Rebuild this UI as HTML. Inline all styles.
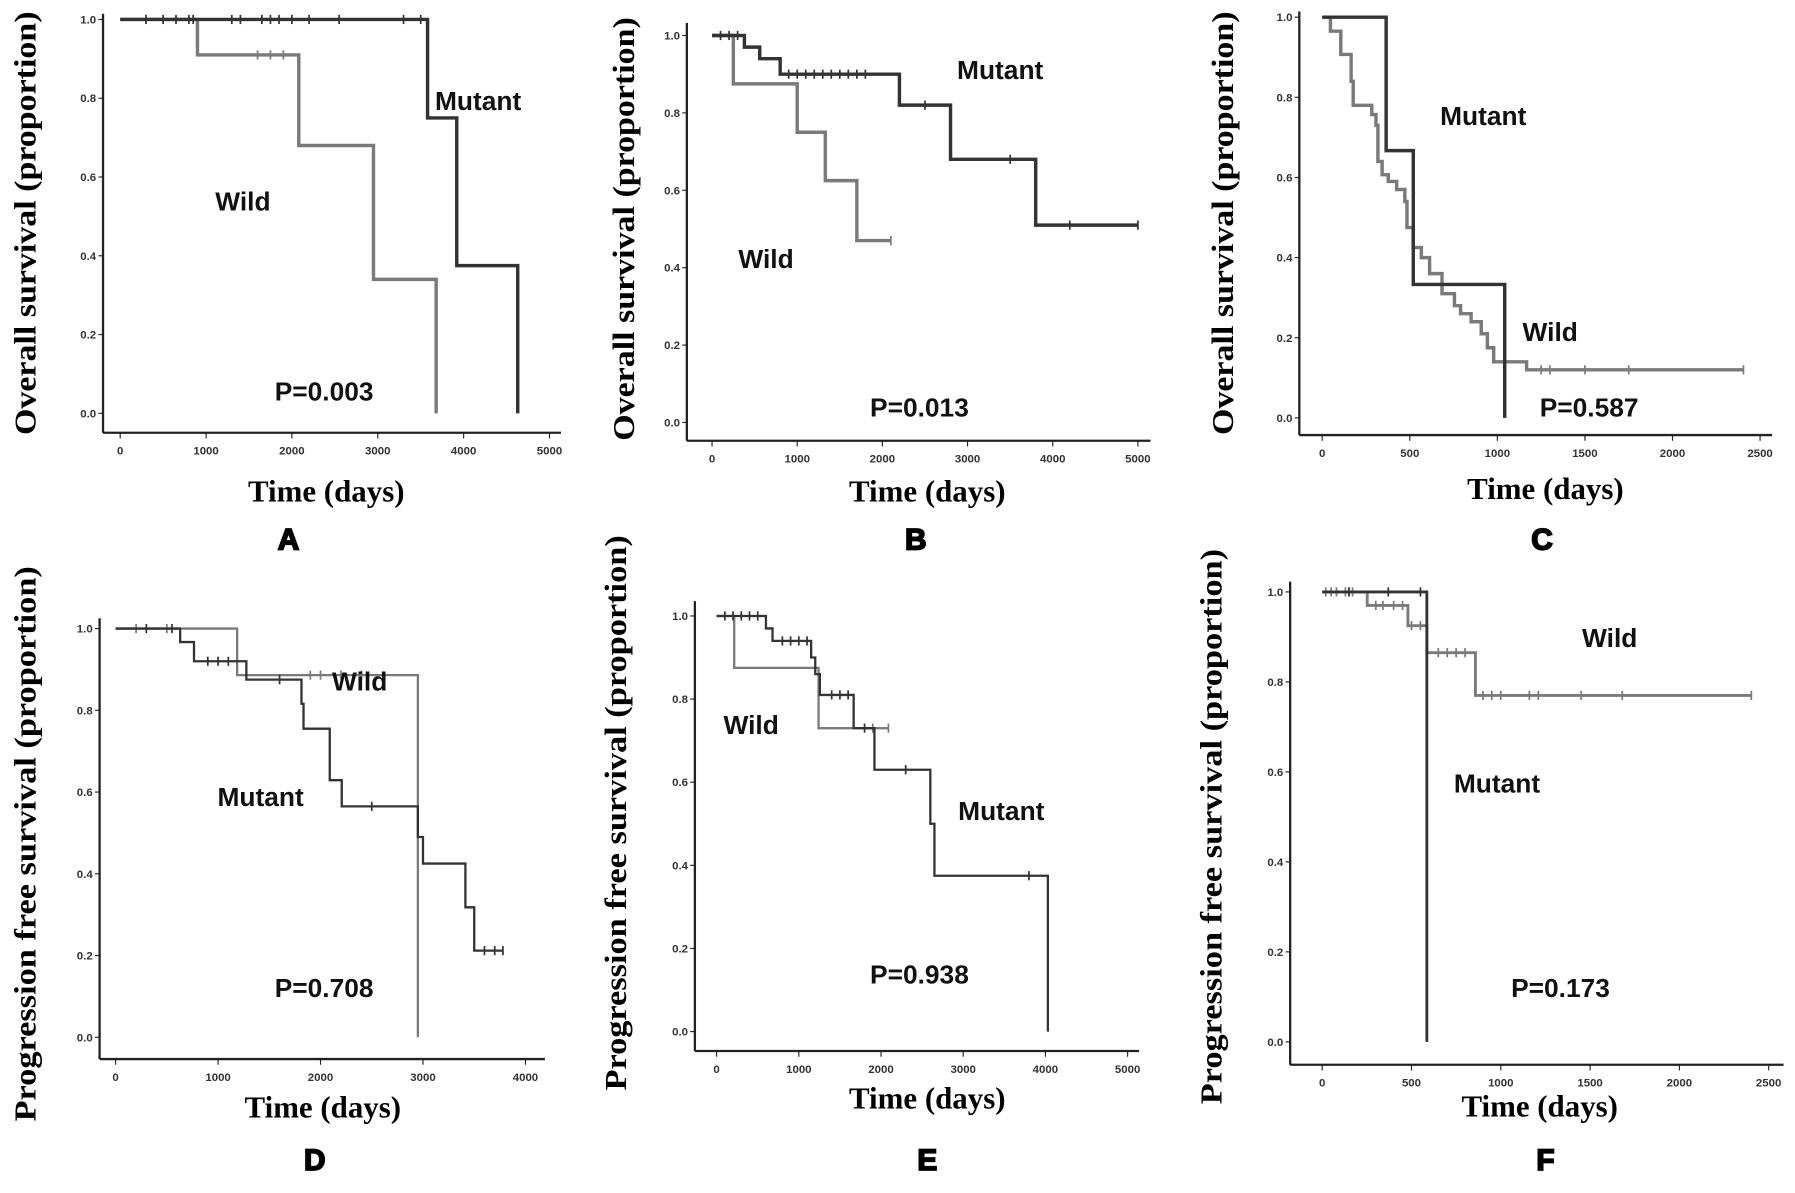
<!DOCTYPE html>
<html><head><meta charset="utf-8"><style>
html,body{margin:0;padding:0;background:#fff;}
svg{display:block;}
.tk{font-family:"Liberation Sans",sans-serif;font-size:10px;fill:#333;font-weight:bold;}
.lab{font-family:"Liberation Sans",sans-serif;font-weight:bold;font-size:23px;fill:#111;}
.ttl{font-family:"Liberation Serif",serif;font-weight:bold;font-size:27px;fill:#000;}
.let{font-family:"Liberation Sans",sans-serif;font-weight:bold;font-size:26px;fill:#000;stroke:#000;stroke-width:1.5px;}
</style></head><body>
<svg id="fig" width="1795" height="1193" viewBox="0 0 1568 1042" preserveAspectRatio="none" xmlns="http://www.w3.org/2000/svg"></svg>
<script>
// ---- data (time in days, survival proportion) ----
const aWildT=[0,900,2080,2950,3680];            const aWildS=[1,0.91,0.68,0.34,0];
const aMutT=[0,3580,3920,4630];                  const aMutS=[1,0.75,0.375,0];
const bMutT=[0,380,560,800,2200,2800,3800,5000]; const bMutS=[1,0.97,0.94,0.90,0.82,0.68,0.51,0.51];
const bWildT=[0,250,1000,1330,1700,2100];        const bWildS=[1,0.875,0.75,0.625,0.47,0.47];
const cMutT=[0,365,520,1042];                    const cMutS=[1,0.667,0.333,0];
const cWildT=[0,47,106,165,177,283,307,318,342,377,425,472,484,519,566,613,684,755,790,850,908,943,979,1167,2405];
const cWildS=[1,0.965,0.907,0.84,0.78,0.757,0.73,0.64,0.607,0.59,0.57,0.54,0.475,0.425,0.40,0.36,0.31,0.28,0.26,0.24,0.21,0.175,0.14,0.12,0.12];
const dWildT=[0,1186,2950];                      const dWildS=[1,0.886,0];
const dMutT=[0,630,765,1276,1814,1834,2090,2207,2950,3000,3414,3500,3780];
const dMutS=[1,0.967,0.92,0.875,0.816,0.755,0.629,0.565,0.49,0.425,0.318,0.212,0.212];
const eMutT=[0,600,680,1150,1200,1256,1667,1920,2600,2650,4030];
const eMutS=[1,0.97,0.94,0.90,0.86,0.81,0.73,0.63,0.5,0.375,0];
const eWildT=[0,214,1240,2090];                  const eWildS=[1,0.875,0.73,0.73];
const fMutT=[0,586];                             const fMutS=[1,0];
const fWildT=[0,252,480,586,858,2403];           const fWildS=[1,0.97,0.925,0.865,0.77,0.77];
// censor marks
const aMutC=[300,500,650,800,850,1300,1400,1650,1750,1850,2000,2200,2550,3300,3500];
const aWildC=[1600,1750,1900];
const bMutC=[100,200,300,900,1000,1100,1200,1300,1400,1500,1600,1700,1800,2500,3500,4200,5000];
const bWildC=[2100];
const cWildC=[1250,1300,1500,1750,2405];
const dMutC=[300,550,900,1000,1100,1600,2500,3600,3700,3780];
const dWildC=[200,500,1900,2000,2200,2400];
const eMutC=[100,200,300,400,500,800,900,1000,1100,1400,1500,1600,1800,2300,3800];
const eWildC=[1900,2090];
const fMutC=[150,370,550];
const fWildC=[20,50,80,130,150,170,300,340,400,450,500,550,650,700,750,800,900,950,1000,1160,1210,1450,1680,2403];
const xTicksA=[0,1000,2000,3000,4000,5000];
const xTicksC=[0,500,1000,1500,2000,2500];
const xTicksD=[0,1000,2000,3000,4000];
const yTicks=[0,0.2,0.4,0.6,0.8,1.0];

const NS="http://www.w3.org/2000/svg";
const svg=document.getElementById('fig');
function mk(tag,attrs,parent){const e=document.createElementNS(NS,tag);for(const k in attrs)e.setAttribute(k,attrs[k]);(parent||svg).appendChild(e);return e;}

const panels=[
 {id:'a',ax:90,ay:378,top:12,right:490,x0:105,sc:75/1000,y1:17,y0:361,ticks:xTicksA,lw:3,
  series:[[aWildT,aWildS,aWildC,'#7a7a7a','wild'],[aMutT,aMutS,aMutC,'#333','mutant']],
  labels:[['Mutant',380,96],['Wild',188,184],['P=0.003',240,350]],ytitle:'Overall survival (proportion)',yx:22,yc:195,ylen:370,tx:285,ty:438,letter:'A',lx:252,ly:480},
 {id:'b',ax:600,ay:385,top:20,right:1005,x0:622,sc:74.4/1000,y1:31,y0:369,ticks:xTicksA,lw:3,
  series:[[bWildT,bWildS,bWildC,'#7a7a7a','wild'],[bMutT,bMutS,bMutC,'#333','mutant']],
  labels:[['Mutant',836,69],['Wild',645,234],['P=0.013',760,364]],ytitle:'Overall survival (proportion)',yx:545,yc:200,ylen:370,tx:810,ty:438,letter:'B',lx:800,ly:480},
 {id:'c',ax:1135,ay:380,top:10,right:1548,x0:1155,sc:76.5/500,y1:15,y0:365,ticks:xTicksC,lw:3,
  series:[[cWildT,cWildS,cWildC,'#7a7a7a','wild'],[cMutT,cMutS,[],'#333','mutant']],
  labels:[['Mutant',1258,109],['Wild',1330,298],['P=0.587',1345,364]],ytitle:'Overall survival (proportion)',yx:1068,yc:195,ylen:370,tx:1350,ty:436,letter:'C',lx:1347,ly:480},
 {id:'d',ax:87,ay:925,top:540,right:476,x0:101,sc:89.5/1000,y1:549,y0:906,ticks:xTicksD,lw:2,
  series:[[dWildT,dWildS,dWildC,'#7a7a7a','wild'],[dMutT,dMutS,dMutC,'#333','mutant']],
  labels:[['Wild',290,603],['Mutant',190,704],['P=0.708',240,871]],ytitle:'Progression free survival (proportion)',yx:22,yc:737,ylen:485,tx:282,ty:976,letter:'D',lx:275,ly:1022},
 {id:'e',ax:607,ay:918,top:525,right:995,x0:626,sc:71.8/1000,y1:538,y0:901,ticks:xTicksA,lw:2,
  series:[[eWildT,eWildS,eWildC,'#7a7a7a','wild'],[eMutT,eMutS,eMutC,'#333','mutant']],
  labels:[['Wild',632,641],['Mutant',837,716],['P=0.938',760,859]],ytitle:'Progression free survival (proportion)',yx:538,yc:710,ylen:485,tx:810,ty:968,letter:'E',lx:810,ly:1022},
 {id:'f',ax:1127,ay:930,top:508,right:1558,x0:1155,sc:78/500,y1:517,y0:910,ticks:xTicksC,lw:2.5,
  series:[[fWildT,fWildS,fWildC,'#7a7a7a','wild'],[fMutT,fMutS,fMutC,'#333','mutant']],
  labels:[['Wild',1382,565],['Mutant',1270,692],['P=0.173',1320,871]],ytitle:'Progression free survival (proportion)',yx:1058,yc:722,ylen:485,tx:1345,ty:975,letter:'F',lx:1350,ly:1022}
];

function survAt(T,S,t){let v=S[0];for(let i=0;i<T.length;i++){if(T[i]<=t)v=S[i];}return v;}

panels.forEach(p=>{
  const g=mk('g',{});
  
  
  const X=t=>p.x0+t*p.sc, Y=s=>p.y0-(p.y0-p.y1)*s;
  const ya=mk('path',{d:`M${p.ax},${p.top}V${p.ay}`,stroke:'#222','stroke-width':2,fill:'none'},g);
  
  
  const xa=mk('path',{d:`M${p.ax},${p.ay}H${p.right}`,stroke:'#222','stroke-width':2,fill:'none'},g);
  
  
  yTicks.forEach(v=>{
    mk('path',{d:`M${p.ax-4},${Y(v)}H${p.ax}`,stroke:'#222','stroke-width':1},g);
    const t=mk('text',{x:p.ax-6,y:Y(v)+3.5,'text-anchor':'end',class:'tk'},g);t.textContent=v.toFixed(1);
    
    
  });
  p.ticks.forEach(v=>{
    mk('path',{d:`M${X(v)},${p.ay}V${p.ay+5}`,stroke:'#222','stroke-width':1},g);
    const t=mk('text',{x:X(v),y:p.ay+19,'text-anchor':'middle',class:'tk'},g);t.textContent=v;
    
    
  });
  p.series.forEach(([T,S,C,col,nm])=>{
    let d=`M${X(T[0])},${Y(S[0])}`;
    for(let i=1;i<T.length;i++){d+=`H${X(T[i])}V${Y(S[i])}`;}
    const path=mk('path',{d:d,stroke:col,'stroke-width':p.lw,fill:'none'},g);
    
    
    C.forEach(c=>{
      const cy=Y(survAt(T,S,c));
      const m=mk('path',{d:`M${X(c)},${cy-4}V${cy+4}`,stroke:col,'stroke-width':1.5},g);
      
      
    });
  });
  p.labels.forEach(([txt,x,y])=>{
    const t=mk('text',{x:x,y:y,class:'lab'},g);t.textContent=txt;
    
    
  });
  const yt=mk('text',{x:0,y:0,class:'ttl','text-anchor':'middle',transform:`translate(${p.yx+9},${p.yc}) rotate(-90)`,textLength:p.ylen,lengthAdjust:'spacingAndGlyphs'},g);
  yt.textContent=p.ytitle;
  
  
  const xt=mk('text',{x:p.tx,y:p.ty,class:'ttl','text-anchor':'middle'},g);xt.textContent='Time (days)';
  
  
  const lt=mk('text',{x:p.lx,y:p.ly,class:'let','text-anchor':'middle'},g);lt.textContent=p.letter;
  
  
});
</script>
</body></html>
